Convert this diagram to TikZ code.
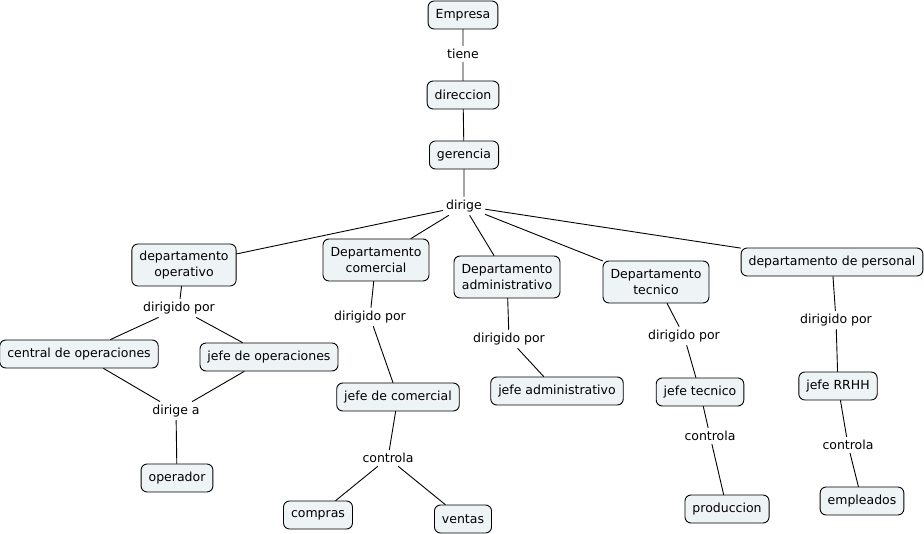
\documentclass[tikz,border=0pt]{standalone}
\usepackage{fontspec}
\setmainfont{DejaVu Sans}
\definecolor{cfill}{RGB}{238,243,245}
\begin{document}
\begin{tikzpicture}[x=1pt,y=-1pt,line join=round,line cap=round,
  font=\fontsize{12.5}{15.5}\selectfont,
  concept/.style={draw,fill=cfill,rounded corners=6pt,line width=0.9pt,inner xsep=7.5pt,inner ysep=4pt,minimum height=28pt,align=center},
  tall/.style={concept,minimum height=42pt},
  linking/.style={inner sep=3pt},
  every path/.style={line width=0.9pt}]
\useasboundingbox (0,0) rectangle (924,534);
% concepts
\node[concept] (emp) at (463,15) {Empresa};
\node[concept] (dir) at (463,95) {direccion};
\node[concept] (ger) at (464,155) {gerencia};
\node[tall] (dop) at (184,265) {departamento\\operativo};
\node[tall] (dcom) at (376,260) {Departamento\\comercial};
\node[tall] (dadm) at (507,277) {Departamento\\administrativo};
\node[tall] (dtec) at (656,282) {Departamento\\tecnico};
\node[concept] (dper) at (832,262) {departamento de personal};
\node[concept] (cen) at (79,354) {central de operaciones};
\node[concept] (jop) at (269,357) {jefe de operaciones};
\node[concept] (ope) at (177,478) {operador};
\node[concept] (jcom) at (398,397) {jefe de comercial};
\node[concept] (comp) at (318,515) {compras};
\node[concept] (vent) at (463,519) {ventas};
\node[concept] (jadm) at (557,391) {jefe administrativo};
\node[concept] (jtec) at (700,392) {jefe tecnico};
\node[concept] (prod) at (727,509) {produccion};
\node[concept] (jrh) at (838,386) {jefe RRHH};
\node[concept] (empl) at (862,501) {empleados};
% linking phrases
\node[linking] (tiene) at (463,54) {tiene};
\node[linking] (dirige) at (464,206) {dirige};
\node[linking] (dpop) at (179,308) {dirigido por};
\node[linking] (dirigea) at (176,411) {dirige a};
\node[linking] (dpcom) at (370,317) {dirigido por};
\node[linking] (ctlcom) at (388,458) {controla};
\node[linking] (dpadm) at (509,339) {dirigido por};
\node[linking] (dptec) at (684,336) {dirigido por};
\node[linking] (ctltec) at (710,436) {controla};
\node[linking] (dpper) at (836,320) {dirigido por};
\node[linking] (ctlper) at (848,445) {controla};
% connectors
\draw (emp) -- (tiene) -- (dir) -- (ger) -- (dirige);
\foreach \n in {dop,dcom,dadm,dtec,dper}{\draw (dirige) -- (\n);}
\draw (dop) -- (dpop);
\foreach \n in {cen,jop}{\draw (dpop) -- (\n); \draw (\n) -- (dirigea);}
\draw (dirigea) -- (ope);
\draw (dcom) -- (dpcom) -- (jcom) -- (ctlcom);
\foreach \n in {comp,vent}{\draw (ctlcom) -- (\n);}
\draw (dadm) -- (dpadm) -- (jadm);
\draw (dtec) -- (dptec) -- (jtec) -- (ctltec) -- (prod);
\draw (dper) -- (dpper) -- (jrh) -- (ctlper) -- (empl);
\end{tikzpicture}
\end{document}
